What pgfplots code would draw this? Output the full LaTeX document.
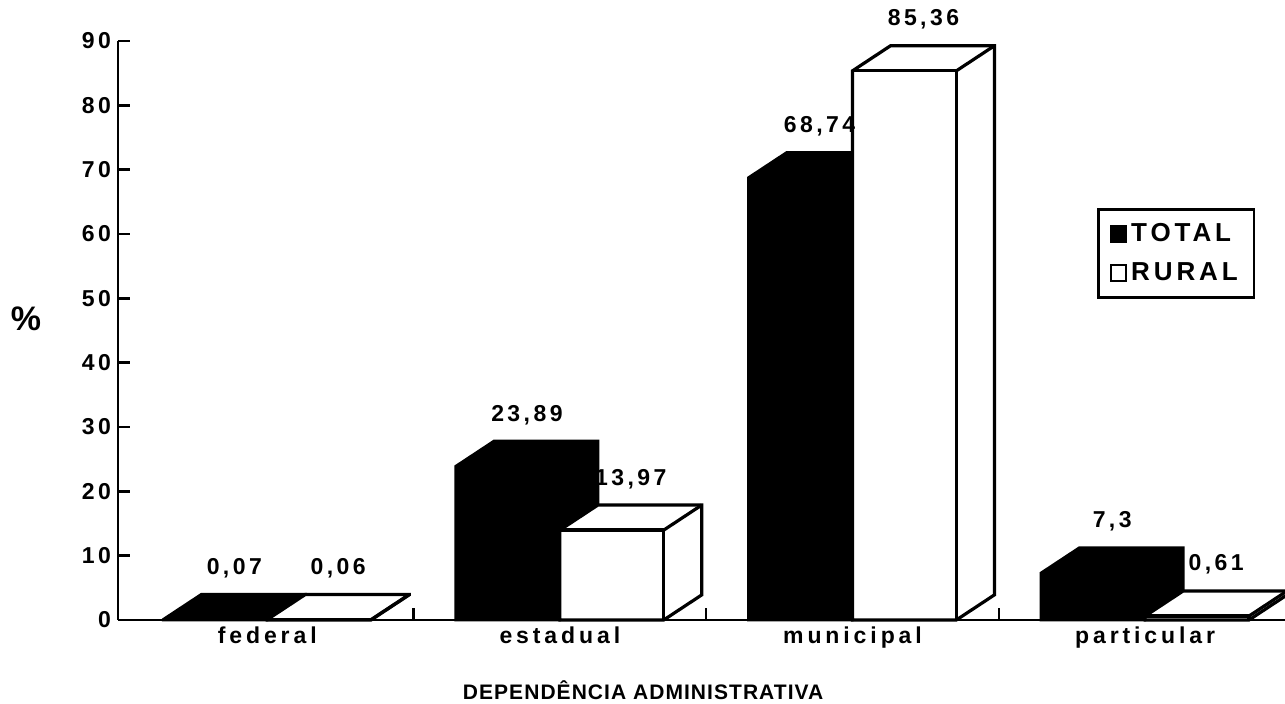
\documentclass[border=0pt]{standalone}
\usepackage{fontspec}
\setmainfont{Liberation Sans}
\newfontfamily\trk{Liberation Sans}[LetterSpace=15]
\newfontfamily\trkl{Liberation Sans}[LetterSpace=17]
\newfontfamily\trkb{Liberation Sans}[LetterSpace=5]
\usepackage{pgfplots}
\pgfplotsset{compat=1.18}
\usetikzlibrary{calc}

% bar geometry (axis units)
\def\bw{0.355}\def\bdx{0.13}\def\bdy{3.9}

\pgfplotsset{
  black3d/.style={fill=black, draw=black, line width=1.5pt, mark=none},
  white3d/.style={fill=white, draw=black, line width=1.6pt, mark=none},
  edge3d/.style={draw=black, fill=none, line width=1.6pt, mark=none},
  vlabel/.style={draw=none, mark=none, nodes near coords={#1},
    nodes near coords style={anchor=south, inner sep=0pt, yshift=8pt,
      font=\trk\bfseries\fontsize{11.5}{13}\selectfont, text=black}},
}

% #1 category index, #2 value, #3 label text
\newcommand{\blackbar}[3]{%
  \pgfmathsetmacro\xa{#1-\bw}%
  \pgfmathsetmacro\xb{#1}%
  \pgfmathsetmacro\xc{#1-\bw+\bdx}%
  \pgfmathsetmacro\xd{#1+\bdx}%
  \pgfmathsetmacro\yt{#2+\bdy}%
  \pgfmathsetmacro\xl{#1-\bw/2+\bdx/2}%
  \edef\tmp{%
    \noexpand\addplot[black3d, forget plot] coordinates {(\xa,0) (\xa,#2) (\xc,\yt) (\xd,\yt) (\xd,\bdy) (\xb,0)} -- cycle;
    \noexpand\addplot[vlabel={#3}, forget plot] coordinates {(\xl,\yt)};
  }\tmp
}
\newcommand{\whitebar}[3]{%
  \pgfmathsetmacro\xa{#1}%
  \pgfmathsetmacro\xb{#1+\bw}%
  \pgfmathsetmacro\xc{#1+\bdx}%
  \pgfmathsetmacro\xd{#1+\bw+\bdx}%
  \pgfmathsetmacro\yt{#2+\bdy}%
  \pgfmathsetmacro\xl{#1+\bw/2+\bdx/2}%
  \edef\tmp{%
    \noexpand\addplot[white3d, forget plot] coordinates {(\xa,0) (\xa,#2) (\xc,\yt) (\xd,\yt) (\xd,\bdy) (\xb,0)} -- cycle;
    \noexpand\addplot[edge3d, forget plot] coordinates {(\xa,#2) (\xb,#2) (\xb,0)};
    \noexpand\addplot[edge3d, forget plot] coordinates {(\xb,#2) (\xd,\yt)};
    \noexpand\addplot[vlabel={#3}, forget plot] coordinates {(\xl,\yt)};
  }\tmp
}

\begin{document}
\begin{tikzpicture}
\begin{axis}[
  scale only axis, width=583.5pt, height=289.5pt,
  xmin=-0.51, xmax=3.478, ymin=0, ymax=90,
  clip=false,
  axis x line=bottom, axis y line=left,
  axis line style={-, line width=1.3pt, black},
  ytick={0,10,...,90},
  xtick={0.5,1.5,2.5}, xticklabels={},
  tick align=inside, major tick length=6pt,
  tick style={line width=1.3pt, black},
  extra x ticks={0,1,2,3},
  extra x tick labels={federal,estadual,municipal,particular},
  extra x tick style={major tick length=0pt, tick style={draw=none}},
  ticklabel style={font=\trk\bfseries\fontsize{11.5}{13}\selectfont},
  x tick label style={font=\trkl\bfseries\fontsize{11.5}{13}\selectfont},
  /pgf/number format/assume math mode=true,
  ylabel={\%},
  ylabel style={rotate=-90, at={(axis description cs:0,0.52)}, anchor=center, xshift=-46pt,
    font=\bfseries\fontsize{17}{20}\selectfont},
  xlabel={DEPENDÊNCIA ADMINISTRATIVA},
  xlabel style={at={(axis description cs:0.45,0)}, anchor=center, yshift=-35pt,
    font=\trkb\bfseries\fontsize{10.5}{12}\selectfont},
  legend image code/.code={\draw[#1, line width=0.9pt] (0pt,-3.9pt) rectangle (7.5pt,3.9pt);},
  legend style={at={(axis description cs:0.839,0.7116)}, anchor=north west,
    draw=black, line width=1.3pt, inner xsep=6pt, inner ysep=5pt,
    font=\trk\bfseries\fontsize{13}{15}\selectfont, row sep=5pt,
    /tikz/every even column/.append style={column sep=0pt}},
  legend cell align=left,
]
\addlegendimage{fill=black, draw=black}
\addlegendentry{TOTAL}
\addlegendimage{fill=white, draw=black}
\addlegendentry{RURAL}

\blackbar{0}{0.07}{0,07}
\whitebar{0}{0.06}{0,06}
\blackbar{1}{23.89}{23,89}
\whitebar{1}{13.97}{13,97}
\blackbar{2}{68.74}{68,74}
\whitebar{2}{85.36}{85,36}
\blackbar{3}{7.3}{7,3}
\whitebar{3}{0.61}{0,61}
\end{axis}
\pgfresetboundingbox
\path ($(current axis.south west)+(-59pt,-42pt)$) rectangle ($(current axis.north east)+(0pt,20.5pt)$);
\end{tikzpicture}
\end{document}
